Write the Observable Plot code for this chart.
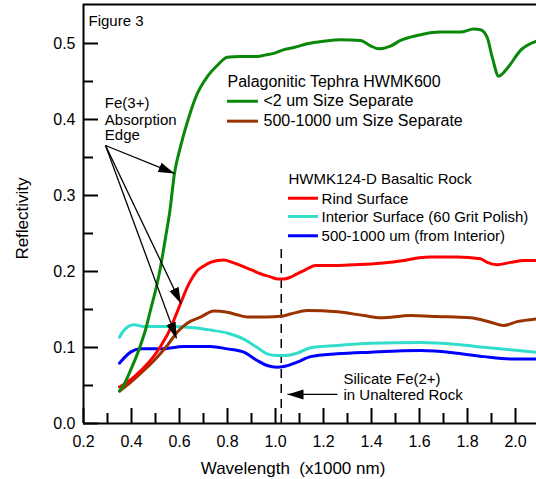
<!DOCTYPE html>
<html><head><meta charset="utf-8">
<script src="https://cdn.jsdelivr.net/npm/d3@7"></script>
<script src="https://cdn.jsdelivr.net/npm/@observablehq/plot@0.6"></script>
<style>
html,body{margin:0;padding:0;background:#fff;}
svg text{white-space:pre;}
</style></head><body><div id="chart"></div>
<script>
// ---- data ----
const greenX = [0.35,0.37,0.396,0.42,0.4375,0.46,0.479,0.50,0.518,0.542,0.56,0.579,0.604,0.635,0.674,0.715,0.757,0.799,0.854,0.924,0.96,0.993,1.035,1.08,1.132,1.20,1.271,1.354,1.396,1.43,1.479,1.521,1.59,1.6875,1.771,1.826,1.854,1.882,1.903,1.93,1.965,2.021,2.0875];
const greenY = [0.043,0.052,0.070,0.088,0.103,0.125,0.149,0.175,0.201,0.245,0.280,0.329,0.364,0.399,0.434,0.456,0.471,0.482,0.483,0.483,0.485,0.487,0.492,0.495,0.4996,0.503,0.505,0.504,0.497,0.493,0.4965,0.504,0.5105,0.515,0.515,0.519,0.518,0.508,0.482,0.457,0.467,0.491,0.503];
const redX = [0.35,0.38,0.41,0.44,0.479,0.51,0.535,0.556,0.576,0.604,0.632,0.654,0.674,0.70,0.729,0.76,0.785,0.82,0.854,0.90,0.9375,0.979,1.01,1.035,1.0625,1.09,1.118,1.167,1.25,1.326,1.4375,1.535,1.60,1.646,1.757,1.854,1.882,1.924,1.979,2.035,2.0875];
const redY = [0.048,0.054,0.061,0.070,0.083,0.096,0.109,0.121,0.1355,0.1575,0.179,0.192,0.201,0.207,0.212,0.2145,0.215,0.212,0.208,0.202,0.197,0.193,0.190,0.190,0.1925,0.197,0.201,0.208,0.208,0.209,0.211,0.2145,0.218,0.219,0.219,0.2167,0.212,0.209,0.212,0.2145,0.2145];
const brownX = [0.35,0.396,0.451,0.507,0.549,0.59,0.632,0.6875,0.743,0.799,0.84,0.882,0.965,1.021,1.0625,1.132,1.257,1.368,1.4375,1.5625,1.674,1.8125,1.896,1.951,2.007,2.0875];
const brownY = [0.0425,0.054,0.0697,0.0873,0.1026,0.120,0.132,0.140,0.148,0.1465,0.143,0.140,0.140,0.141,0.144,0.1487,0.147,0.142,0.139,0.142,0.1408,0.139,0.1333,0.129,0.134,0.1377];
const cyanX = [0.35,0.368,0.41,0.451,0.549,0.66,0.729,0.799,0.868,0.924,0.965,1.007,1.035,1.09,1.146,1.257,1.396,1.604,1.757,1.868,1.979,2.0875];
const cyanY = [0.1136,0.1224,0.130,0.1276,0.1276,0.126,0.123,0.119,0.111,0.100,0.0917,0.0895,0.0895,0.0925,0.0996,0.1026,0.1057,0.1066,0.104,0.1004,0.097,0.0938];
const blueX = [0.35,0.396,0.4375,0.521,0.618,0.729,0.799,0.868,0.924,0.965,1.007,1.035,1.09,1.146,1.257,1.396,1.604,1.757,1.868,1.979,2.0875];
const blueY = [0.0794,0.0939,0.0982,0.0982,0.1013,0.1013,0.0982,0.0939,0.0829,0.0763,0.074,0.075,0.0807,0.088,0.0917,0.0939,0.096,0.0925,0.088,0.085,0.085];

const xTickLabels = [0.2,0.4,0.6,0.8,1.0,1.2,1.4,1.6,1.8,2.0];
const xMinorTicks = [0.3,0.5,0.7,0.9,1.1,1.3,1.5,1.7,1.9];
const yTickLabels = [0.0,0.1,0.2,0.3,0.4,0.5];
const yMinorTicks = [0.05,0.15,0.25,0.35,0.45];
const xDomain = [0.2, 2.0875];
const yDomain = [0, 0.5513];

const legend1Title = "Palagonitic Tephra HWMK600";
const legend1Labels = ["<2 um Size Separate", "500-1000 um Size Separate"];
const legend2Title = "HWMK124-D Basaltic Rock";
const legend2Labels = ["Rind Surface", "Interior Surface (60 Grit Polish)", "500-1000 um (from Interior)"];
const feLabel = ["Fe(3+)", "Absorption", "Edge"];
const silicateLabel = ["Silicate Fe(2+)", "in Unaltered Rock"];
const figureLabel = "Figure 3";
const xLabel = "Wavelength  (x1000 nm)";
const yLabel = "Reflectivity";
const dashedX = 1.024;

// ---- styling ----
const colors = {green:"#0a880a", red:"#ff0000", brown:"#993300", cyan:"#33ddcc", blue:"#0000ff"};
const W = 536, H = 479, mL = 83, mT = 4, mB = 56, mR = 0;
const plotH = H - mT - mB, plotW = W - mL - mR;

const series = [
  {x: cyanX, y: cyanY, c: colors.cyan},
  {x: blueX, y: blueY, c: colors.blue},
  {x: brownX, y: brownY, c: colors.brown},
  {x: redX, y: redY, c: colors.red},
  {x: greenX, y: greenY, c: colors.green}
];

const lineMarks = series.map(s => Plot.line(s.x.map((v,i)=>({x:v, y:s.y[i]})), {x:"x", y:"y", stroke: s.c, strokeWidth: 3, curve: "monotone-x"}));

// legend positions (data units)
const leg1 = {titleX: 0.8, titleY: 0.4421, x1: 0.8, x2: 0.929, textX: 0.95, lineY: [0.424, 0.3978], textY: [0.4175, 0.3912], colors: [colors.green, colors.brown]};
const leg2 = {titleX: 1.054, titleY: 0.3145, x1: 1.054, x2: 1.179, textX: 1.192, lineY: [0.2964, 0.2724, 0.247], textY: [0.2891, 0.2649, 0.2395], colors: [colors.red, colors.cyan, colors.blue]};

const legendMarks = [];
[[leg1, legend1Title, legend1Labels, 16], [leg2, legend2Title, legend2Labels, 15]].forEach(([L, title, labels, fs]) => {
  legendMarks.push(Plot.text([title], {x: () => L.titleX, y: () => L.titleY, text: d => d, textAnchor: "start", lineAnchor: "bottom", fontSize: fs, fill: "#000"}));
  labels.forEach((lab, i) => {
    legendMarks.push(Plot.ruleY([L.lineY[i]], {x1: L.x1, x2: L.x2, stroke: L.colors[i], strokeWidth: 3}));
    legendMarks.push(Plot.text([lab], {x: () => L.textX, y: () => L.textY[i], text: d => d, textAnchor: "start", lineAnchor: "bottom", fontSize: fs, fill: "#000"}));
  });
});

const feText = feLabel.map((t, i) => ({t, x: 0.289, y: [0.4149, 0.3934, 0.3724][i]}));
const silText = silicateLabel.map((t, i) => ({t, x: 1.2833, y: [0.0522, 0.0312][i]}));
const arrows = [
  {x1: 0.2917, y1: 0.3658, x2: 0.579, y2: 0.329},
  {x1: 0.2917, y1: 0.3658, x2: 0.606, y2: 0.158},
  {x1: 0.2917, y1: 0.3658, x2: 0.5875, y2: 0.112},
  {x1: 1.258, y1: 0.0382, x2: 1.05, y2: 0.0382}
];

const chart = Plot.plot({
  width: W, height: H,
  marginLeft: mL, marginTop: mT, marginBottom: mB, marginRight: mR,
  style: {fontFamily: "'Liberation Sans', Arial, sans-serif", fontSize: "16px", background: "#fff", color: "#000"},
  x: {domain: xDomain},
  y: {domain: yDomain},
  marks: [
    Plot.axisX({ticks: xTickLabels, tickFormat: d3.format(".1f"), tickSize: 0, tickPadding: 12, label: null, fontSize: 16}),
    Plot.axisY({ticks: yTickLabels, tickFormat: d3.format(".1f"), tickSize: 0, tickPadding: 8, label: null, fontSize: 16}),
    Plot.ruleX(xTickLabels, {insetTop: plotH - 15, strokeWidth: 2}),
    Plot.ruleX(xMinorTicks, {insetTop: plotH - 10, strokeWidth: 2}),
    Plot.ruleY(yTickLabels, {insetRight: plotW - 15, strokeWidth: 2}),
    Plot.ruleY(yMinorTicks, {insetRight: plotW - 10, strokeWidth: 2}),
    Plot.ruleX([xDomain[0]], {strokeWidth: 2}),
    Plot.ruleY([yDomain[0]], {strokeWidth: 2}),
    Plot.ruleY([yDomain[1]], {strokeWidth: 2}),
    Plot.ruleX([dashedX], {y1: 0, y2: 0.2316, stroke: "#000", strokeWidth: 1.5, strokeDasharray: "9,6"}),
    ...lineMarks,
    Plot.link(arrows, {x1: "x1", y1: "y1", x2: "x2", y2: "y2", stroke: "#000", strokeWidth: 1.3}),
    ...legendMarks,
    Plot.text(feText, {x: "x", y: "y", text: "t", textAnchor: "start", lineAnchor: "bottom", fontSize: 15}),
    Plot.text(silText, {x: "x", y: "y", text: "t", textAnchor: "start", lineAnchor: "bottom", fontSize: 15}),
    Plot.text([figureLabel], {x: () => 0.2208, y: () => 0.5233, text: d => d, textAnchor: "start", lineAnchor: "bottom", fontSize: 15}),
    Plot.text([xLabel], {x: () => 1.073, y: () => -0.0658, text: d => d, textAnchor: "middle", lineAnchor: "bottom", fontSize: 17}),
    Plot.text([yLabel], {x: () => -0.054, y: () => 0.2697, text: d => d, textAnchor: "middle", lineAnchor: "middle", rotate: -90, fontSize: 17})
  ]
});

// filled arrowheads on link paths
const svg = d3.select(chart.tagName.toLowerCase() === "svg" ? chart : chart.querySelector("svg"));
svg.append("defs").append("marker")
  .attr("id", "ah").attr("markerUnits", "userSpaceOnUse")
  .attr("viewBox", "-16 -6 17 12").attr("refX", 0).attr("refY", 0)
  .attr("markerWidth", 17).attr("markerHeight", 12).attr("orient", "auto")
  .append("path").attr("d", "M0,0L-16,-5L-16,5Z").attr("fill", "#000");
svg.selectAll('g[aria-label="link"] path').attr("marker-end", "url(#ah)");

document.getElementById("chart").appendChild(chart);
</script></body></html>
